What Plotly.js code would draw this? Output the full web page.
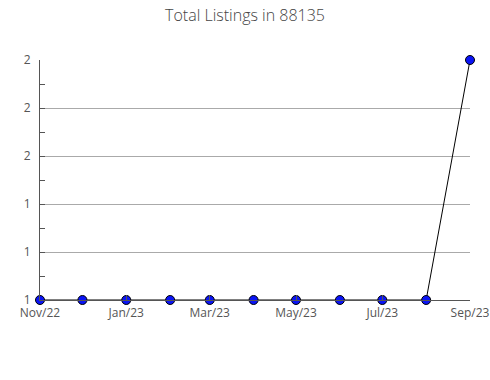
<!DOCTYPE html>
<html>
<head>
<meta charset="utf-8">
<script src="https://cdn.plot.ly/plotly-3.0.1.min.js"></script>
<style>html,body{margin:0;padding:0;background:#fff;}#chart{width:490px;height:380px;}</style>
</head>
<body>
<div id="chart"></div>
<script>
const months = ['2022-11-01','2022-12-01','2023-01-01','2023-02-01','2023-03-01','2023-04-01','2023-05-01','2023-06-01','2023-07-01','2023-08-01','2023-09-01'];
const listings = [1,1,1,1,1,1,1,1,1,1,2];
const yTickVals = [1,1.2,1.4,1.6,1.8,2];
const yTickText = ['1','1','1','2','2','2'];
const chartTitle = 'Total Listings in 88135';

const trace = {
  x: months, y: listings, type: 'scatter', mode: 'lines+markers',
  line: {color: '#000', width: 1},
  marker: {color: '#0a14f5', size: 9, line: {color: '#000', width: 1}},
  cliponaxis: false, hoverinfo: 'none'
};
const layout = {
  width: 490, height: 380,
  margin: {l: 40, r: 20, t: 60, b: 80},
  paper_bgcolor: '#fff', plot_bgcolor: '#fff',
  font: {family: '"Open Sans", sans-serif', color: '#555', size: 12},
  title: {text: chartTitle, font: {size: 16, color: '#444', weight: 300}, x: 0.5, xanchor: 'center', y: 0.96, yanchor: 'middle'},
  showlegend: false,
  xaxis: {
    type: 'date', range: [months[0], months[months.length-1]],
    dtick: 'M2', tick0: months[0], tickformat: '%b/%y',
    showgrid: false, zeroline: false,
    showline: true, linecolor: '#555', linewidth: 1,
    ticks: 'inside', ticklen: 5, tickcolor: '#555',
    ticklabelstandoff: 2,
    tickfont: {size: 12, color: '#555'}
  },
  yaxis: {
    range: [1, 2], tickmode: 'array', tickvals: yTickVals, ticktext: yTickText,
    showgrid: true, gridcolor: '#aaa', gridwidth: 1, zeroline: false,
    showline: true, linecolor: '#555', linewidth: 1,
    ticks: 'inside', ticklen: 5, tickcolor: '#555',
    minor: {ticks: 'inside', ticklen: 5, dtick: 0.1, tick0: 1, tickcolor: '#555', showgrid: false},
    ticklabelstandoff: 6,
    tickfont: {size: 12, color: '#555'}
  }
};
Plotly.newPlot('chart', [trace], layout, {displayModeBar: false, staticPlot: true});
</script>
</body>
</html>
